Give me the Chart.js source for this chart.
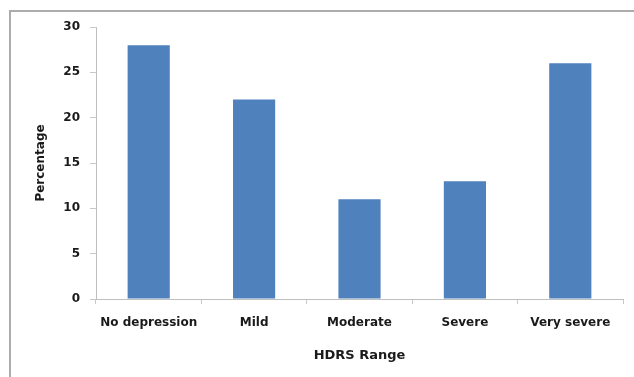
<!DOCTYPE html>
<html>
<head>
<meta charset="utf-8">
<script src="https://cdn.jsdelivr.net/npm/chart.js@4"></script>
<style>
  html, body { margin: 0; padding: 0; background: #fff; }
  #wrap { position: relative; width: 634px; height: 377px; }
  #frame { position: absolute; left: 9px; top: 10px; right: -5px; bottom: -5px;
           border-left: 2px solid #acacac; border-top: 2px solid #acacac; }
  canvas { position: absolute; left: 0; top: 0; }
</style>
</head>
<body>
<div id="wrap">
  <div id="frame"></div>
  <canvas id="hdrsChart" width="634" height="377"></canvas>
</div>
<script>
// categories and values
const categories = ['No depression', 'Mild', 'Moderate', 'Severe', 'Very severe'];
const percentages = [28, 22, 11, 13, 26];
const yMin = 0;
const yMax = 30;
const yStep = 5;

const xTitle = 'HDRS Range';
const yTitle = 'Percentage';

function createHdrsChart() {
  const ctx = document.getElementById('hdrsChart').getContext('2d');
  new Chart(ctx, {
    type: 'bar',
    data: {
      labels: categories,
      datasets: [{
        label: yTitle,
        data: percentages,
        backgroundColor: '#4f81bd',
        borderWidth: 0,
        categoryPercentage: 1,
        barPercentage: 0.4
      }]
    },
    options: {
      responsive: false,
      animation: false,
      layout: { padding: { left: 0, right: 11, top: 27, bottom: 0 } },
      plugins: {
        legend: { display: false },
        tooltip: { enabled: false }
      },
      scales: {
        x: {
          afterFit: scale => { scale.height = 78; },
          grid: { drawOnChartArea: false, drawTicks: true, tickLength: 5, color: '#c8c8c8', offset: true },
          border: { display: true, color: '#bfbfbf', width: 1 },
          ticks: { color: '#1a1a1a', padding: 12, maxRotation: 0,
                   font: { family: 'DejaVu Sans', size: 12, weight: 'bold' } },
          title: { display: true, text: xTitle, color: '#1a1a1a', padding: { top: 0, bottom: 14 },
                   font: { family: 'DejaVu Sans', size: 13, weight: 'bold' } }
        },
        y: {
          min: yMin,
          max: yMax,
          afterFit: scale => { scale.width = 96; },
          grid: { drawOnChartArea: false, drawTicks: true, tickLength: 6, color: '#c8c8c8' },
          border: { display: true, color: '#bfbfbf', width: 1 },
          ticks: { stepSize: yStep, color: '#1a1a1a', padding: 10,
                   font: { family: 'DejaVu Sans', size: 12, weight: 'bold' } },
          title: { display: true, text: yTitle, color: '#1a1a1a', padding: { top: 34, bottom: 0 },
                   font: { family: 'DejaVu Sans', size: 12, weight: 'bold' } }
        }
      }
    }
  });
}

window.addEventListener('load', createHdrsChart);
</script>
</body>
</html>
